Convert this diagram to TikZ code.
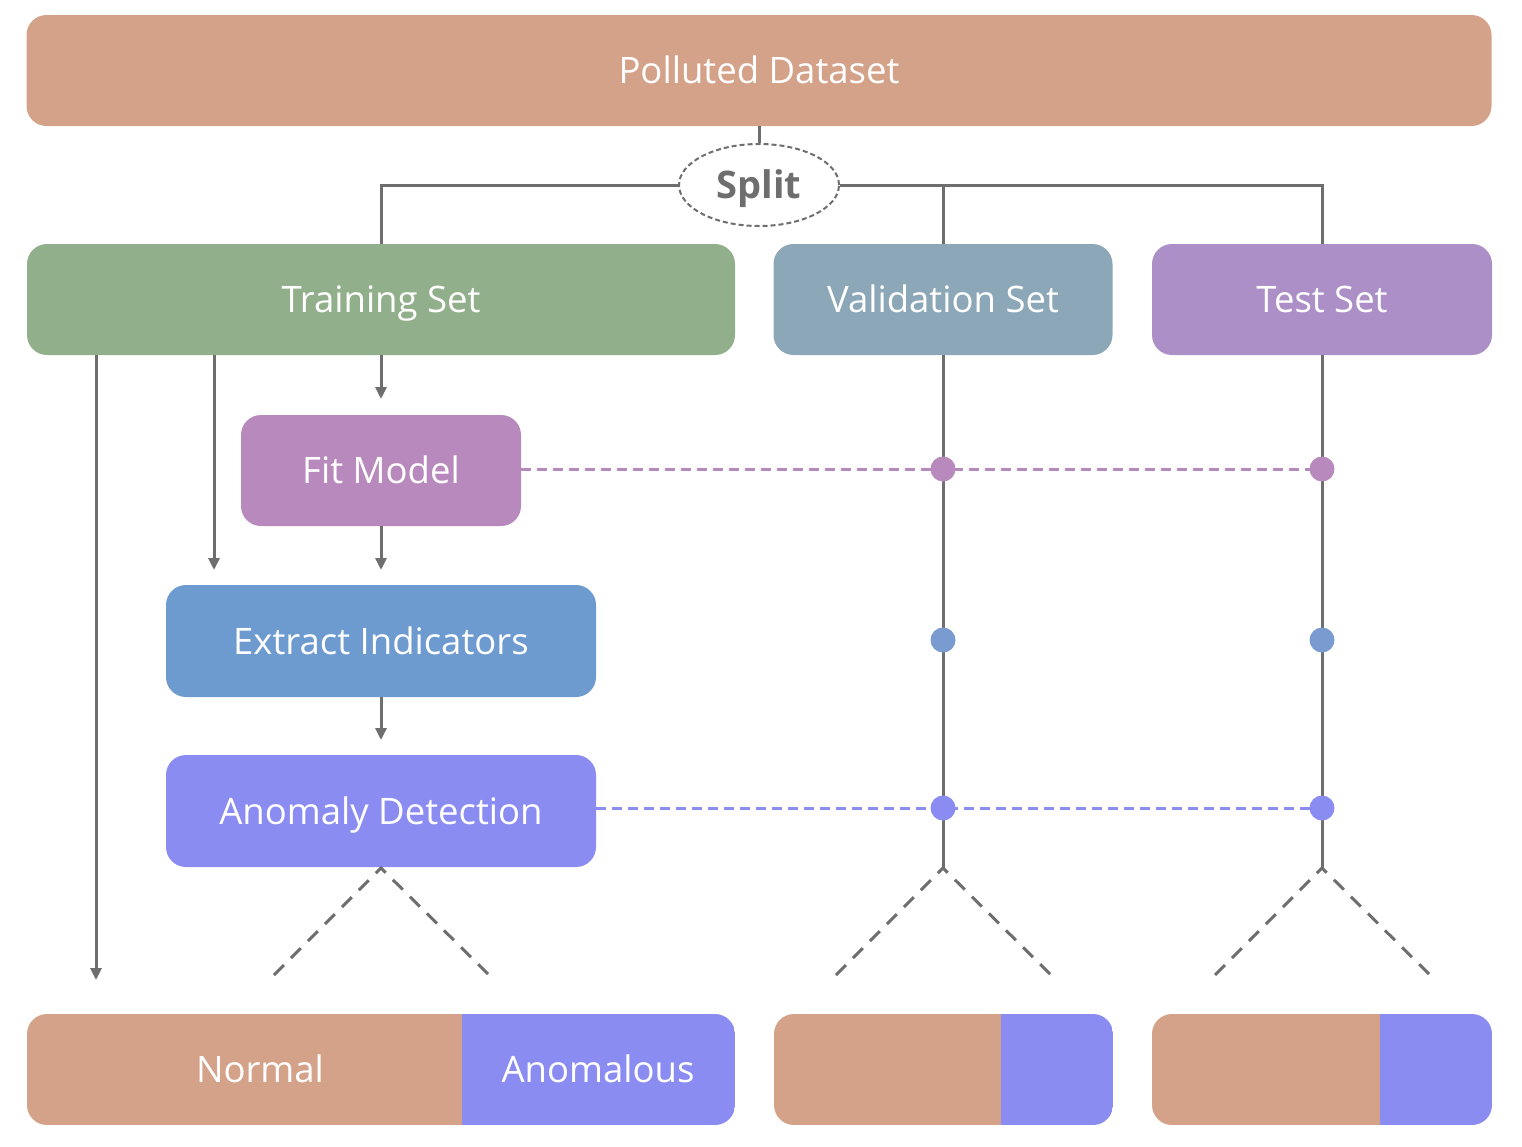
\documentclass[tikz,border=0pt]{standalone}
\usepackage{fontspec}
\setmainfont{Open Sans}
\usetikzlibrary{arrows.meta,shapes.geometric}
\definecolor{cPol}{HTML}{D4A189}
\definecolor{cTrain}{HTML}{92AF8C}
\definecolor{cVal}{HTML}{8CA7B8}
\definecolor{cTest}{HTML}{AC8FC7}
\definecolor{cFit}{HTML}{B889BC}
\definecolor{cExt}{HTML}{6E9BCF}
\definecolor{cAno}{HTML}{8B8CF2}
\definecolor{cDotB}{HTML}{7A9BD0}
\definecolor{cLine}{HTML}{6E6E6E}
\tikzset{
  box/.style={rounded corners=20pt, inner sep=0pt, text=white, font=\fontsize{36.5}{42}\selectfont, text height=26pt, text depth=0pt},
  conn/.style={draw=cLine, line width=3pt},
  arr/.style={conn, -{Triangle[width=11pt,length=12pt]}},
  vdash/.style={draw=cLine, line width=3pt, dash pattern=on 14pt off 10pt},
  hdash/.style={line width=3pt, dash pattern=on 10pt off 6pt},
  dotmark/.style={circle, inner sep=0pt, minimum size=25pt},
  lbl/.style={text=white, font=\fontsize{36.5}{42}\selectfont, inner sep=0pt, text height=26pt, text depth=0pt}
}
\begin{document}
\begin{tikzpicture}[x=1pt,y=-1pt]
\useasboundingbox (0,0) rectangle (1522,1146);
% top boxes
\node[box, fill=cPol, minimum width=1465pt, minimum height=111pt] (pol) at (759,70.5) {Polluted Dataset};
\node[ellipse, draw=cLine, line width=2pt, dash pattern=on 5pt off 3pt, minimum width=160pt, minimum height=82pt, inner sep=0pt, fill=white, text=cLine, font=\fontsize{38}{44}\selectfont\bfseries, text height=27pt, text depth=0pt] (split) at (759,185) {Split};
\node[box, fill=cTrain, minimum width=708pt, minimum height=111pt] (train) at (381,299.5) {Training Set};
\node[box, fill=cVal, minimum width=339pt, minimum height=111pt] (val) at (943,299.5) {Validation Set};
\node[box, fill=cTest, minimum width=340pt, minimum height=111pt] (test) at (1322,299.5) {Test Set};
\node[box, fill=cFit, minimum width=280pt, minimum height=111pt] (fit) at (381,470.5) {Fit Model};
\node[box, fill=cExt, minimum width=430pt, minimum height=112pt] (ext) at (381,641) {Extract Indicators};
\node[box, fill=cAno, minimum width=430pt, minimum height=112pt] (ano) at (381,811) {Anomaly Detection};

% split connectors
\draw[conn] (pol.south) -- (split.north);
\draw[conn] (split.west) -| (train.north);
\draw[conn] (split.east) -| (test.north);
\draw[conn] (val.north) -- (val.north |- split.east);

% coordinates
\coordinate (a1) at (381,399);
\coordinate (a2) at (214,570);
\coordinate (a3) at (96,980);
\coordinate (a4) at (381,570);
\coordinate (a5) at (381,740);
\draw[arr] (train.south) -- (a1);
\draw[arr] (214,355) -- (a2);
\draw[arr] (96,355) -- (a3);
\draw[arr] (fit.south) -- (a4);
\draw[arr] (ext.south) -- (a5);

% vertical lines for val and test
\coordinate (vtip) at (943,868);
\coordinate (ttip) at (1322,868);
\draw[conn] (val.south) -- (vtip);
\draw[conn] (test.south) -- (ttip);

% dashed horizontal lines
\draw[hdash, draw=cFit] (fit.east |- 0,469) -- (1322,469);
\draw[hdash, draw=cAno] (ano.east |- 0,808) -- (1322,808);

% dots
\node[dotmark, fill=cFit] (d1) at (943,469) {};
\node[dotmark, fill=cFit] (d2) at (1322,469) {};
\node[dotmark, fill=cDotB] (d3) at (943,640) {};
\node[dotmark, fill=cDotB] (d4) at (1322,640) {};
\node[dotmark, fill=cAno] (d5) at (943,808) {};
\node[dotmark, fill=cAno] (d6) at (1322,808) {};

% dashed V
\foreach \c in {381,943,1322}{
  \draw[vdash, line join=miter] (\c-107,975) -- (\c,868) -- (\c+108,975);
}

% bottom bars
\begin{scope}
\clip[rounded corners=20pt] (27,1014) rectangle (735,1125);
\fill[cPol] (27,1014) rectangle (462,1125);
\fill[cAno] (462,1014) rectangle (735,1125);
\end{scope}
\begin{scope}
\clip[rounded corners=20pt] (774,1014) rectangle (1113,1125);
\fill[cPol] (774,1014) rectangle (1001,1125);
\fill[cAno] (1001,1014) rectangle (1113,1125);
\end{scope}
\begin{scope}
\clip[rounded corners=20pt] (1152,1014) rectangle (1492,1125);
\fill[cPol] (1152,1014) rectangle (1380,1125);
\fill[cAno] (1380,1014) rectangle (1492,1125);
\end{scope}
\node[lbl] (normal) at (260,1069.5) {Normal};
\node[lbl] (anomalous) at (598,1069.5) {Anomalous};
\end{tikzpicture}
\end{document}
